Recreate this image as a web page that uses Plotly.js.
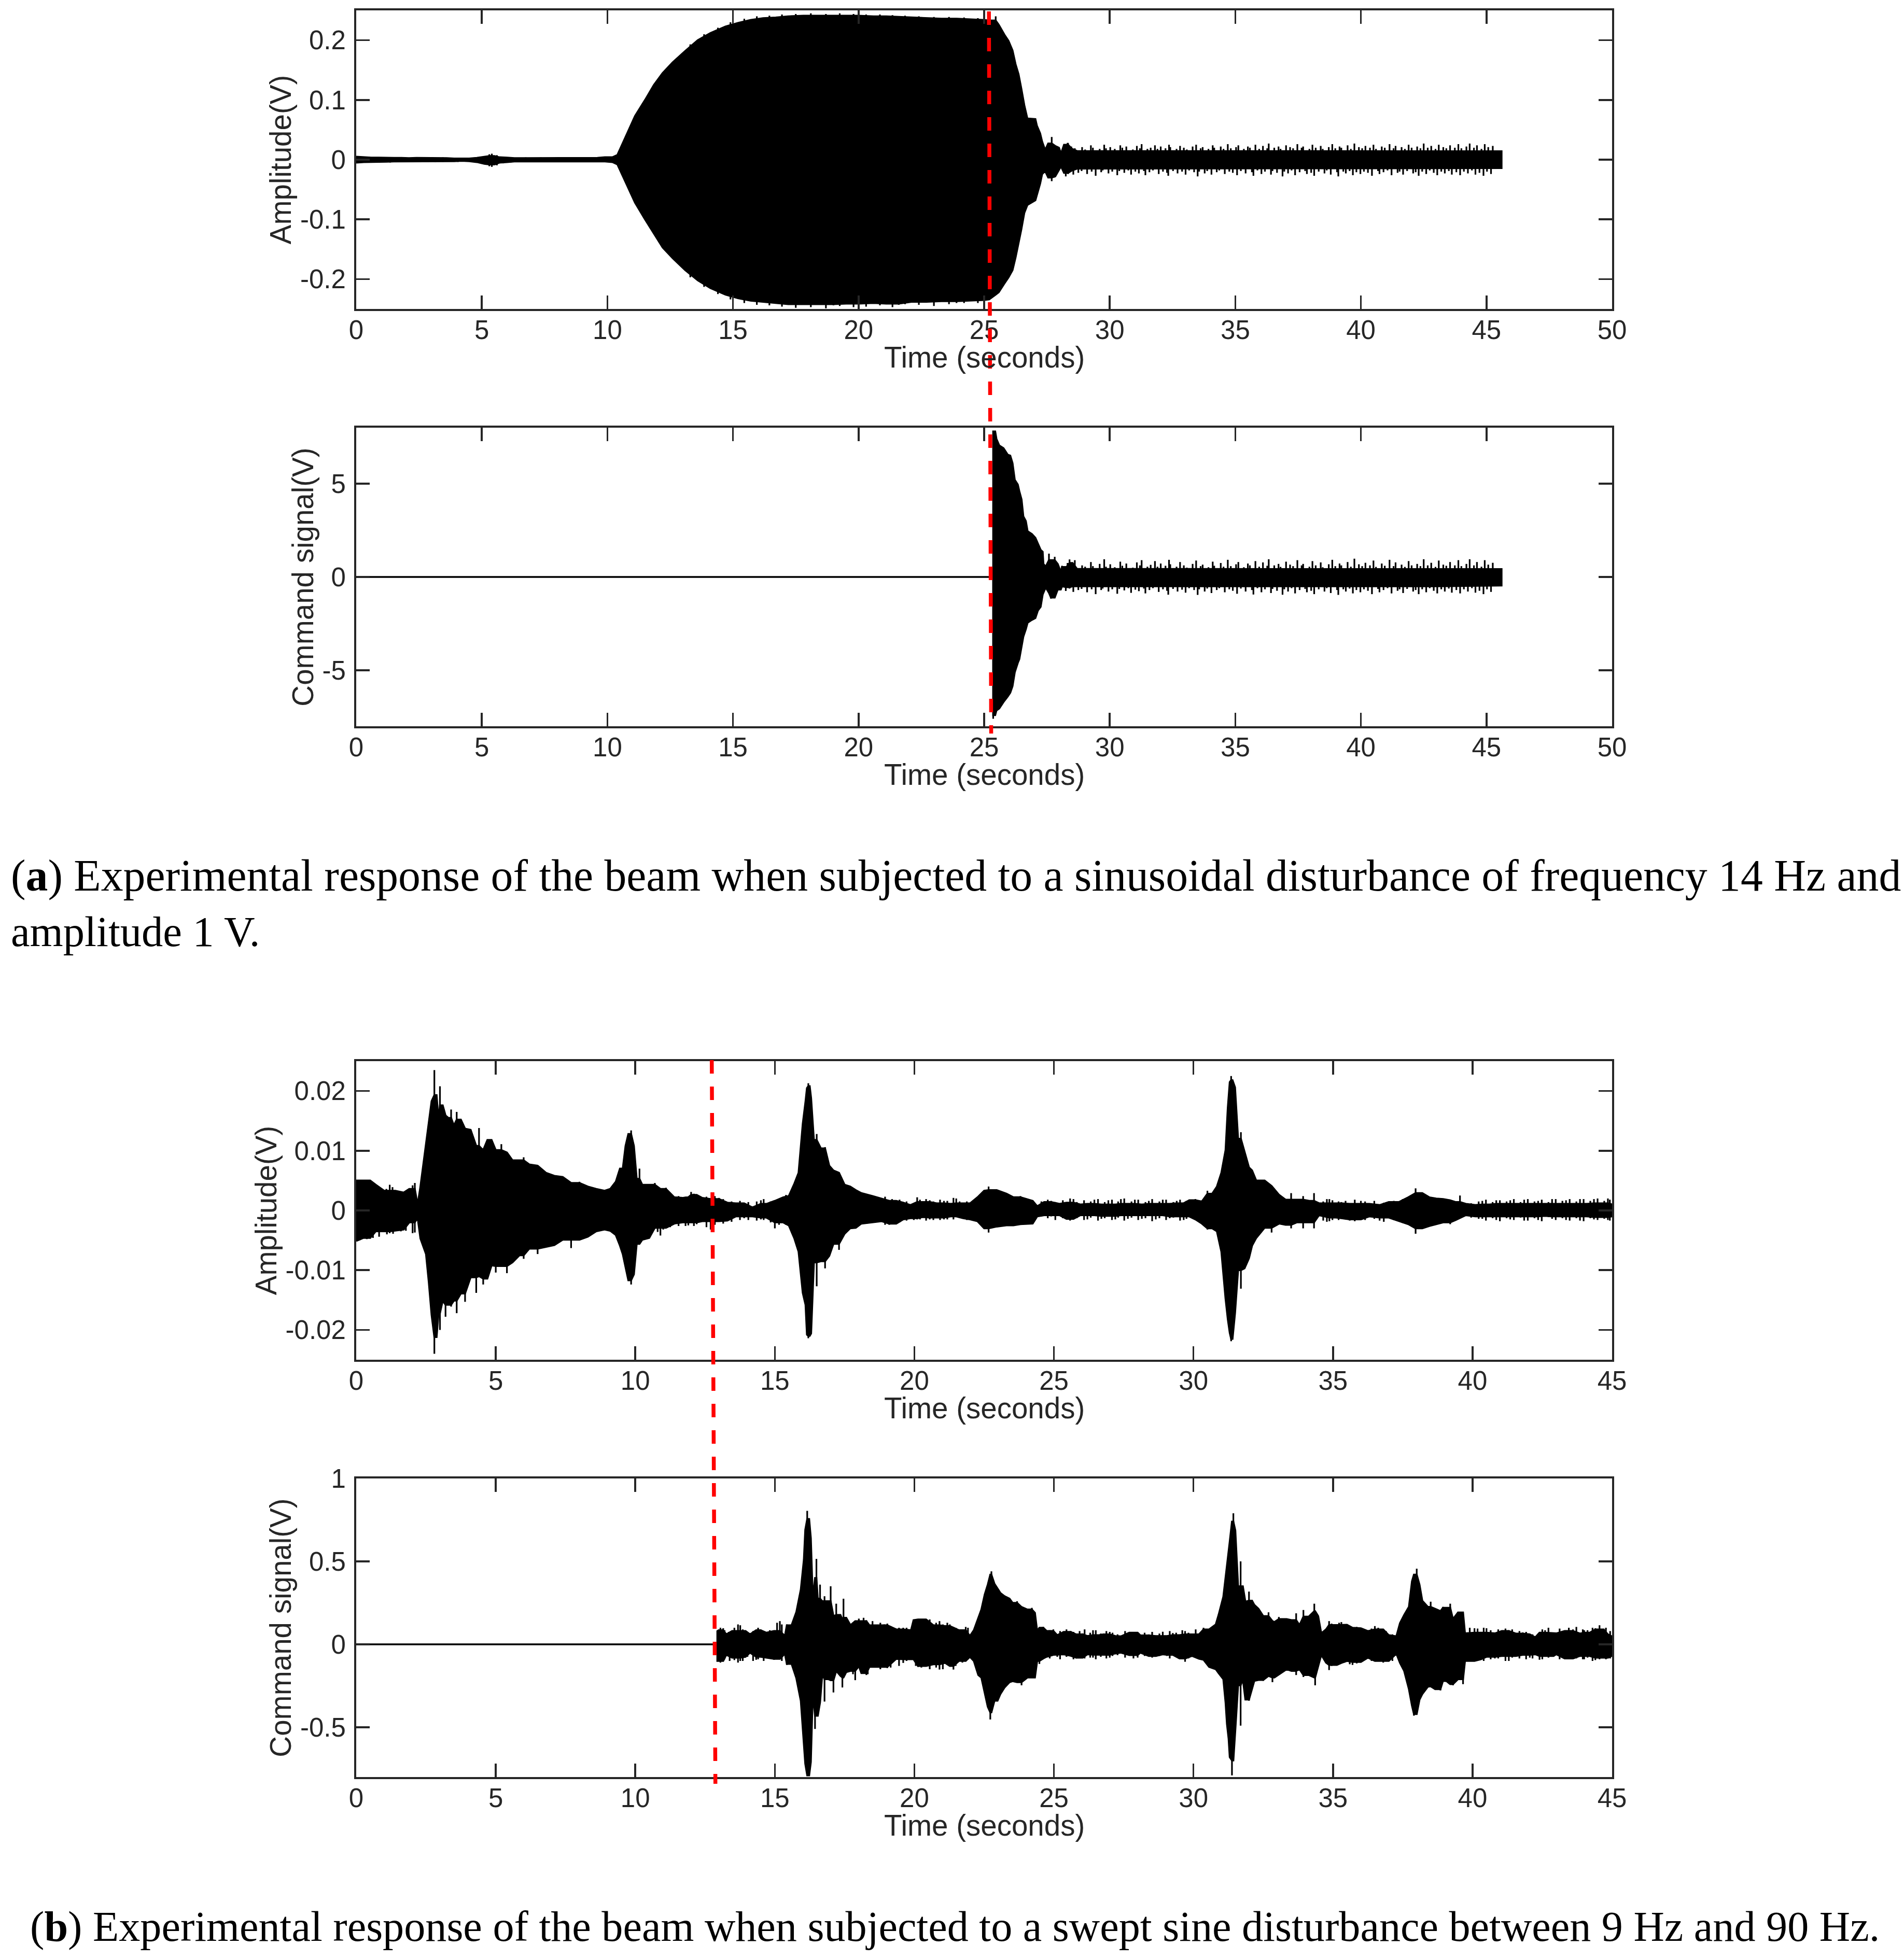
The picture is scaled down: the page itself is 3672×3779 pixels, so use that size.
<!DOCTYPE html>
<html>
<head>
<meta charset="utf-8">
<script src="https://cdn.plot.ly/plotly-3.0.1.min.js"></script>
<style>html,body{margin:0;padding:0;background:#fff}#chart{width:3672px;height:3779px}</style>
</head>
<body>
<div id="chart"></div>
<script>
// ---------- Panel (a): quiet core of the tail after the transient (seconds, V)
const tailTimeA = [28.7,31,34,37,40,43,45.6];
const ampATailUpper = [.0145,.0145,.015,.0145,.015,.0145,.014];
const ampATailLower = [-.015,-.015,-.0145,-.015,-.0145,-.015,-.014];
const cmdATailUpper = [.43,.43,.44,.43,.44,.43,.42];
const cmdATailLower = [-.52,-.52,-.5,-.52,-.5,-.52,-.46];

// Isolated spikes sticking out of that core
const tailSpikeUpTime = [28.32,28.47,28.61,28.9,29.02,29.25,29.33,29.6,29.78,29.85,
 30.02,30.2,30.42,30.5,30.66,30.92,31.08,31.2,31.27,31.5,
 31.63,31.8,31.9,32.03,32.22,32.36,32.41,32.66,32.8,32.95,
 33.07,33.3,33.44,33.62,33.7,33.93,34.1,34.16,34.42,34.53,
 34.7,34.82,35.03,35.12,35.34,35.5,35.58,35.8,35.95,36.1,
 36.27,36.33,36.55,36.72,36.8,37.02,37.18,37.3,37.47,37.64,
 37.7,37.95,38.07,38.2,38.4,38.48,38.72,38.86,38.98,39.15,
 39.22,39.47,39.6,39.74,39.92,40.05,40.18,40.36,40.5,40.6,
 40.83,40.95,41.14,41.3,41.38,41.62,41.75,41.9,42.02,42.24,
 42.37,42.5,42.66,42.8,42.97,43.1,43.28,43.4,43.55,43.74,
 43.88,44,44.2,44.33,44.5,44.62,44.8,44.93,45.07,45.25];
const tailSpikeLoTime = [28.25,28.4,28.55,28.75,28.88,29.1,29.28,29.44,29.66,29.72,
 29.95,30.1,30.3,30.38,30.58,30.74,30.85,31.02,31.16,31.36,
 31.42,31.58,31.72,31.95,32.12,32.28,32.33,32.52,32.7,32.88,
 33.02,33.16,33.36,33.5,33.56,33.78,33.88,34.05,34.26,34.36,
 34.58,34.76,34.9,35.07,35.22,35.41,35.66,35.72,35.88,36.04,
 36.18,36.42,36.48,36.66,36.88,36.95,37.1,37.24,37.38,37.56,
 37.78,37.85,38.02,38.14,38.32,38.55,38.64,38.8,39.05,39.1,
 39.3,39.4,39.55,39.68,39.82,39.98,40.12,40.28,40.44,40.68,
 40.74,40.9,41.06,41.22,41.46,41.54,41.68,41.84,42.08,42.18,
 42.3,42.44,42.6,42.74,42.9,43.04,43.2,43.34,43.5,43.62,
 43.8,43.95,44.1,44.26,44.42,44.56,44.72,44.88,45.02,45.18];
const ampASpikeUp = [.028,.022,.019,.021,.017,.024,.02,.018,.025,.019,
 .021,.018,.024,.02,.022,.017,.023,.019,.026,.018,
 .02,.024,.018,.022,.019,.025,.021,.018,.023,.02,
 .017,.022,.025,.019,.021,.018,.024,.02,.022,.018,
 .026,.019,.021,.024,.018,.022,.02,.025,.018,.023,
 .019,.027,.02,.022,.018,.024,.021,.019,.026,.02,
 .022,.018,.025,.02,.023,.018,.021,.026,.019,.022,
 .02,.024,.018,.027,.021,.019,.023,.02,.025,.018,
 .022,.02,.026,.019,.023,.021,.018,.025,.02,.022,
 .019,.027,.02,.023,.018,.025,.021,.019,.024,.02,
 .026,.019,.022,.027,.02,.024,.018,.026,.021,.023];
const ampASpikeLo = [-.028,-.02,-.025,-.022,-.019,-.024,-.02,-.027,-.021,-.018,
 -.023,-.02,-.026,-.019,-.022,-.018,-.025,-.02,-.023,-.019,
 -.026,-.021,-.018,-.024,-.02,-.022,-.027,-.019,-.023,-.02,
 -.025,-.018,-.021,-.028,-.02,-.023,-.019,-.025,-.021,-.018,
 -.024,-.02,-.022,-.026,-.019,-.023,-.021,-.027,-.018,-.024,
 -.02,-.025,-.019,-.022,-.028,-.02,-.023,-.018,-.026,-.021,
 -.019,-.024,-.022,-.027,-.02,-.023,-.018,-.025,-.021,-.028,
 -.02,-.023,-.019,-.026,-.021,-.024,-.02,-.022,-.027,-.019,
 -.024,-.021,-.018,-.026,-.022,-.02,-.025,-.019,-.023,-.021,
 -.027,-.02,-.024,-.018,-.022,-.026,-.02,-.023,-.019,-.025,
 -.021,-.026,-.02,-.023,-.018,-.025,-.022,-.027,-.02,-.024];
const cmdASpikeUp = [.75,.6,.9,.62,.55,.8,.58,.7,.95,.55,
 .68,.52,.82,.6,.72,.5,.78,.62,.9,.55,
 .65,.85,.55,.72,.6,.92,.68,.55,.8,.62,
 .5,.7,.88,.58,.66,.52,.82,.6,.75,.55,
 .92,.58,.68,.8,.52,.72,.62,.85,.55,.78,
 .6,.95,.62,.7,.54,.82,.66,.58,.9,.62,
 .7,.55,.85,.62,.78,.52,.68,.92,.58,.72,
 .62,.8,.55,.98,.68,.58,.76,.62,.88,.54,
 .72,.6,.92,.58,.78,.66,.54,.85,.62,.7,
 .58,.95,.62,.76,.54,.88,.66,.6,.8,.62,
 .9,.58,.7,.95,.62,.8,.55,.9,.66,.76];
const cmdASpikeLo = [-.75,-.62,-.8,-.7,-.64,-.82,-.66,-.92,-.7,-.62,
 -.78,-.66,-.9,-.64,-.72,-.6,-.85,-.68,-.76,-.62,
 -.88,-.7,-.6,-.8,-.66,-.74,-.95,-.64,-.78,-.68,
 -.84,-.6,-.7,-.96,-.66,-.78,-.62,-.86,-.7,-.6,
 -.82,-.66,-.74,-.9,-.62,-.78,-.7,-.94,-.6,-.82,
 -.66,-.86,-.64,-.74,-.95,-.66,-.78,-.6,-.88,-.7,
 -.64,-.82,-.74,-.92,-.66,-.78,-.6,-.86,-.7,-.96,
 -.66,-.78,-.62,-.88,-.7,-.82,-.66,-.74,-.92,-.64,
 -.82,-.7,-.6,-.88,-.74,-.66,-.86,-.64,-.78,-.7,
 -.92,-.66,-.82,-.6,-.74,-.88,-.66,-.78,-.62,-.84,
 -.7,-.88,-.66,-.78,-.6,-.84,-.74,-.92,-.66,-.8];

// Panel (a) top: beam amplitude envelope (V)
const ampATime = [0,.3,.6,.9,1.2,1.5,1.8,2.1,2.4,2.7,3,3.3,3.6,3.9,4.2,4.5,4.8,5.1,5.3,5.5,5.7,6,6.3,6.6,6.9,7.2,7.5,7.8,8.1,8.4,8.7,9,9.3,9.6,9.9,10.2,
  10.4,10.7,11.1,11.5,11.85,12.2,12.6,13.1,13.6,14.1,14.7,15.2,15.7,16.2,16.7,17.2,17.8,18.4,19,19.5,20,20.6,21.1,21.6,22.1,22.7,23.3,23.9,24.5,25,25.2,25.46,
  25.58,25.81,25.97,26.13,26.25,26.37,26.48,26.6,26.72,27.04,27.1,27.23,27.31,27.43,27.55,27.69,27.83,27.98,28.06,28.18,28.34,28.5];
const ampAUpper = [.005,.004,.0035,.004,.003,.0035,.003,.0025,.003,.0035,.0025,.003,.0025,.002,.0025,.002,.003,.005,.009,.006,.004,.0035,.0025,.003,.0025,.003,.0025,.003,.0035,.003,.0025,.003,.0035,.003,.004,.004,
  .008,.036,.073,.1,.125,.145,.163,.182,.2,.212,.223,.229,.234,.237,.238,.24,.241,.242,.241,.242,.241,.24,.24,.239,.238,.237,.236,.236,.235,.234,.233,.24,
  .226,.209,.199,.183,.16,.143,.119,.091,.069,.068,.057,.044,.03,.016,.027,.038,.023,.02,.01,.025,.028,.018];
const ampALower = [-.005,-.004,-.004,-.0035,-.004,-.003,-.0035,-.003,-.0025,-.003,-.0035,-.003,-.0025,-.003,-.002,-.0025,-.004,-.007,-.011,-.008,-.005,-.004,-.003,-.0025,-.003,-.0025,-.003,-.0025,-.003,-.0035,-.003,-.0025,-.003,-.0035,-.003,-.004,
  -.008,-.036,-.072,-.1,-.124,-.147,-.165,-.185,-.202,-.215,-.226,-.232,-.236,-.238,-.24,-.242,-.243,-.242,-.244,-.241,-.243,-.24,-.241,-.243,-.238,-.239,-.237,-.24,-.236,-.235,-.234,-.226,
  -.222,-.207,-.197,-.185,-.164,-.14,-.117,-.089,-.076,-.068,-.059,-.04,-.024,-.019,-.03,-.036,-.028,-.017,-.011,-.022,-.024,-.018];
// Fine fuzz on the quiet start and on the saturated plateau
const ampAEdgeTime = [.15,.45,.75,1.05,1.35,1.65,1.95,2.25,2.55,2.85,3.15,3.45,3.75,4.05,4.35,4.65,4.95,5.2,5.4,5.6,5.85,6.15,6.45,6.75,7.05,7.35,7.65,7.95,8.25,8.55,8.85,9.15,9.45,9.75,10.05,10.3,
  13.3,13.85,14.4,14.9,15.45,15.95,16.45,16.95,17.5,18.1,18.7,19.25,19.8,20.3,20.85,21.35,21.85,22.4,23,23.6,24.2,24.75];
const ampAEdgeUp = [.005,.0045,.0038,.0042,.0036,.004,.0035,.0032,.0038,.004,.0035,.0038,.003,.003,.0032,.003,.004,.006,.01,.0075,.005,.0042,.0035,.0038,.0032,.0038,.0035,.004,.0042,.0036,.0035,.004,.0042,.0038,.0045,.0052,
  .193,.21,.221,.23,.236,.24,.241,.243,.244,.245,.244,.245,.244,.243,.243,.242,.241,.24,.239,.239,.238,.237];
const ampAEdgeLo = [-.0055,-.005,-.0045,-.0042,-.0048,-.0038,-.0042,-.0036,-.0032,-.0038,-.0042,-.0036,-.0032,-.0038,-.0028,-.0032,-.0052,-.0085,-.012,-.0095,-.0062,-.0048,-.0038,-.0034,-.004,-.0034,-.0038,-.0032,-.0038,-.0042,-.0036,-.0032,-.0038,-.0042,-.0038,-.005,
  -.197,-.213,-.225,-.234,-.24,-.243,-.244,-.246,-.248,-.247,-.249,-.245,-.247,-.246,-.244,-.247,-.242,-.243,-.245,-.242,-.24,-.24];

// Panel (a) bottom: command signal envelope (V)
const cmdATime = [0,25.36,25.36,25.44,25.49,25.6,25.77,25.94,26.04,26.13,26.22,26.34,26.4,26.49,26.56,26.66,26.73,26.9,27.04,27.14,27.25,27.33,27.36,27.45,27.58,27.66,27.81,27.93,28.05,28.1,28.28,28.4,28.52];
const cmdAUpper = [0,0,7.8,7.8,7.4,7.05,6.9,6.55,6.5,6.1,5.2,4.95,4.6,4.15,3.25,3,2.45,2.3,2.1,1.8,1.45,1.35,.7,.55,1.25,.9,1.08,.7,.28,.6,.53,.94,.75];
const cmdALower = [0,0,-7.6,-7.4,-7.15,-7.05,-6.7,-6.4,-6.2,-5.85,-5.1,-4.6,-4.4,-3.7,-3.2,-2.8,-2.45,-2.3,-2.2,-1.8,-1.6,-.94,-.9,-.56,-.85,-1.16,-1.1,-.67,-.7,-.5,-.55,-.6,-.5];

// Panel (b) top: beam amplitude envelope (millivolts)
const ampBTime = [0,.25,.5,.7,1,1.2,1.4,1.7,1.9,2.1,2.2,2.3,2.5,2.6,2.7,2.8,2.88,2.95,3,3.1,3.2,3.3,3.4,3.5,3.6,3.75,3.9,4.1,4.3,4.4,4.55,4.7,4.85,5,5.2,5.4,5.6,5.85,6,6.2,6.5,6.8,7.1,7.4,7.7,8,8.3,8.6,8.9,9.1,9.3,9.45,9.55,9.65,9.75,9.85,9.95,10.05,10.15,10.25,10.5,10.7,10.9,11.1,11.4,11.7,11.9,12,12.2,12.4,12.7,13,13.3,13.6,13.9,14.2,14.5,14.7,15,15.3,15.5,15.7,15.85,16,16.1,16.15,16.2,16.25,16.3,16.4,16.5,16.65,16.8,16.95,17.1,17.3,17.5,17.7,17.9,18.1,18.5,18.83,19.1,19.35,19.6,19.86,20.1,20.3,20.55,20.8,21.06,21.3,21.5,21.75,22,22.26,22.5,22.66,22.95,23.3,23.55,23.8,24.24,24.4,24.65,24.9,25.2,25.45,25.7,25.95,26.2,26.45,26.7,26.95,27.2,27.4,27.65,27.9,28.15,28.4,28.65,28.9,29.15,29.4,29.65,29.85,30.07,30.3,30.5,30.67,30.84,31,31.15,31.23,31.3,31.35,31.4,31.49,31.6,31.7,31.83,31.99,32.1,32.25,32.55,32.8,33.07,33.3,33.5,33.7,33.93,34.15,34.32,34.5,34.87,35.1,35.3,35.6,36,36.3,36.67,37,37.36,37.7,37.96,38.2,38.45,38.7,38.95,39.2,39.4,39.55,39.76,40.1,40.35,40.6,40.85,41.1,41.35,41.6,41.85,42.1,42.35,42.6,42.85,43.1,43.35,43.6,43.85,44.1,44.35,44.6,44.85,45];
const ampBUpper = [5,5,5,4.3,3.3,4.3,3.3,3,3.6,4.6,.9,4,11.1,14.2,18.3,23.5,19.3,15,20.8,17.6,15.9,15.5,16.9,14.2,16.5,15.2,13.7,13.5,10.8,13.8,10.1,11.8,11.8,10.1,11.1,9.7,8.4,8.4,8.9,7.7,7.5,6.3,5.8,5.6,4.6,4.8,4,3.6,3.3,3.6,4.8,7,7,10.8,12.8,13.4,10.8,5.3,7,4.3,4.3,4.6,3.6,3.8,2.2,2.1,2.2,3.1,2.6,2.1,1.9,2.1,1.3,1.2,1.2,.5,1.7,1.1,1.6,2.2,2.4,4.5,6.3,14.5,18.3,20.5,21.3,20.8,18.8,11.8,12.8,10.4,10.6,7.5,6.7,6.3,4.3,4,3.4,2.9,2.4,2,1.6,1.7,1.3,.9,2.2,1.4,1.7,1.2,1.6,1.1,2,1.2,1.2,2.2,3.3,4,3.4,2.8,2.2,2.4,1.6,.7,1.4,1.6,1.1,1.3,1.9,1,1.1,1.8,1,1.7,1,1.9,1.1,1.8,1,1.6,1.1,1.8,1.1,1.6,1.2,1.7,1.9,1.5,3.3,2.8,4,6.3,10.1,17.2,21.5,22.5,21.8,20.6,12,13.1,9.9,7.2,6.7,5,5,4.1,2.6,1.8,2.9,1.8,2.4,1.6,2.9,1.2,1.9,1.2,1.4,1.1,1.6,1.1,.9,1.4,1.4,2.2,3.7,2.9,2.2,2,1.9,1.7,1.4,2.5,1.1,.9,1.6,1,1.7,1.1,1.7,1.1,1.8,1.1,1.6,1.1,1.9,1.1,1.7,1.1,1.9,1.1,1.9,1.2,2,1];
const ampBLower = [-5.1,-4.6,-4.7,-3.5,-3.5,-3.8,-3.4,-3.2,-2,-3.7,-1.2,-4.7,-7.3,-12,-17.5,-24,-21.2,-17.2,-20,-15.1,-17.8,-15.8,-16.1,-15.1,-17.2,-13.9,-15.3,-11.2,-13.8,-11,-12.4,-11.4,-9.2,-10.4,-9.3,-10.5,-8.7,-7.5,-8.1,-6.4,-7.3,-6.1,-5.8,-4.9,-6.3,-4.9,-4.4,-3.5,-3.2,-3.4,-4.1,-5.9,-7.3,-9.3,-11.7,-12.4,-10.7,-5.6,-5.6,-4.9,-4.6,-2.9,-4.2,-2.9,-2.2,-2,-2.5,-2,-2.3,-1.8,-3.2,-1.8,-1.7,-1,-1.3,-1,-1.5,-1.2,-3,-2,-2.5,-4.7,-6.9,-13.8,-15.8,-20.8,-21.4,-21,-20.6,-8.7,-12.7,-8.5,-9.7,-7.6,-5.6,-6.6,-3.9,-3,-2.9,-2.2,-2,-1.8,-2.4,-2.2,-1.5,-1.3,-1.5,-1.1,-1.5,-1.2,-1.5,-1,-1,-1.3,-1.5,-1.8,-3,-3.7,-2.7,-2.5,-2.6,-2.3,-2.2,-1,-.8,-1,-.8,-1.4,-1.5,-.8,-1.5,-.8,-1.4,-.9,-1.5,-.8,-1.4,-.8,-1.4,-.8,-1.5,-.8,-1.3,-1,-1.6,-1,-1.5,-2.2,-3.2,-3,-3.5,-6.9,-14.8,-18.2,-20.5,-21.9,-21.5,-17.2,-10,-13.1,-9.7,-8,-5.9,-4.6,-2.9,-3.7,-2.2,-2.4,-3,-2,-3,-2,-3,-.8,-1.8,-1.2,-1.3,-1.7,-1.5,-1,-1.7,-1.2,-1.8,-2.3,-3.9,-3,-2.6,-2.3,-2,-2.3,-1.6,-1.3,-.8,-1,-1.4,-1,-1.6,-1,-1.5,-1,-1.7,-1,-1.6,-.9,-1.4,-1,-1.6,-1,-1.7,-1,-1.5,-1.1,-1.6,-1];
const ampBSpikeUpTime = [.12,.36,.62,.85,1.08,1.3,1.55,1.8,2.02,
 11,11.25,11.55,11.8,12.1,12.55,12.85,13.15,13.45,13.75,14.05,14.35,14.6,14.85,15.15,15.4,
 18.3,18.65,18.95,19.2,19.47,19.72,20.2,20.42,20.68,20.92,21.18,21.4,21.62,21.88,22.12,
 24.55,24.78,25.05,25.32,25.58,25.82,26.08,26.32,26.58,26.82,27.08,27.3,27.52,27.78,28.02,28.28,28.52,28.78,29.02,29.28,29.52,29.75,
 34.65,34.78,34.98,35.2,35.45,35.78,36.15,36.48,36.82,37.18,37.5,
 39.95,40.22,40.48,40.72,40.98,41.22,41.48,41.72,41.98,42.22,42.48,42.72,42.98,43.22,43.48,43.72,43.98,44.22,44.48,44.72,44.92];
const ampBSpikeUp = [4.8,4.7,4.6,3.8,3.6,3.9,3.2,3.3,4.2,
 3.5,2.8,2.4,2.3,2.8,2.3,2.4,1.9,1.5,1.6,1.4,1.5,1.9,1.5,1.9,2.6,
 2.6,2.2,2.3,1.9,1.8,1.5,1.8,1.9,1.5,1.8,1.6,2.1,1.5,1.5,1.7,
 1.5,1.8,1.4,1.7,2,1.4,1.7,1.5,1.9,1.4,1.8,1.5,2,1.5,1.8,1.4,1.9,1.5,1.8,1.4,1.8,1.6,
 1.5,1.9,1.7,1.5,1.6,1.8,1.5,1.6,1.3,1.6,1.9,
 1.2,1.5,1.8,1.4,1.7,1.5,1.9,1.4,1.9,1.5,1.8,1.4,1.9,1.6,1.9,1.5,1.9,1.6,2,1.6,1.8];
const ampBSpikeLoTime = [.12,.38,.6,.82,1.1,1.32,1.6,1.78,2.02,
 10.6,10.8,11,11.25,11.55,11.8,12.1,12.55,12.85,13.15,13.45,13.75,14.05,14.35,14.6,14.85,15.15,15.4,
 18.3,18.65,18.95,19.2,19.47,19.72,19.98,20.2,20.42,20.68,20.92,21.18,21.4,21.62,21.88,22.12,
 24.55,24.78,25.05,25.32,25.58,25.82,26.08,26.32,26.58,26.82,27.08,27.3,27.52,27.78,28.02,28.28,28.52,28.78,29.02,29.28,29.52,29.75,
 34.65,34.78,34.98,35.2,35.45,35.78,36.15,36.48,36.82,37.18,37.5,
 39.95,40.22,40.48,40.72,40.98,41.22,41.48,41.72,41.98,42.22,42.48,42.72,42.98,43.22,43.48,43.72,43.98,44.22,44.48,44.72,44.92];
const ampBSpikeLo = [-5,-4.8,-4.6,-4.4,-4,-3.9,-3.5,-3.4,-3.8,
 -3.8,-3.6,-3.2,-2.8,-2.6,-2.6,-2.6,-2.8,-2.4,-2.2,-1.9,-1.6,-1.6,-1.7,-1.6,-2,-2.4,-2.4,
 -2.2,-1.9,-2.4,-2.1,-2,-1.7,-1.6,-1.5,-1.7,-1.6,-1.6,-1.5,-1.5,-1.3,-1.6,-1.7,
 -1,-1.3,-1.6,-1.3,-1.7,-1.3,-1.6,-1.2,-1.7,-1.3,-1.6,-1.2,-1.7,-1.2,-1.6,-1.3,-1.8,-1.3,-1.6,-1.2,-1.7,-1.4,
 -1.7,-1.9,-1.6,-1.6,-1.5,-1.8,-1.6,-1.4,-1.9,-1.6,-2.1,
 -1.2,-1.4,-1.7,-1.3,-1.8,-1.3,-1.6,-1.2,-1.7,-1.3,-1.8,-1.1,-1.6,-1.3,-1.7,-1.3,-1.8,-1.3,-1.6,-1.4,-1.7];

// Panel (b) bottom: command signal envelope (V)
const cmdBTime = [0,12.94,12.94,12.99,13.15,13.26,13.47,13.76,13.95,14.11,14.33,14.49,14.7,14.97,15.18,15.36,15.43,15.6,15.77,15.93,16.04,16.09,16.16,16.23,16.29,16.36,16.44,16.49,16.54,16.62,16.7,16.78,16.91,17,17.1,17.2,17.35,17.42,17.46,17.56,17.71,17.88,18.01,18.1,18.28,18.39,18.65,19.03,19.35,19.6,19.88,19.97,20.13,20.42,20.68,20.9,21.1,21.27,21.4,21.6,21.84,21.99,22.13,22.29,22.4,22.52,22.63,22.72,22.76,22.87,22.98,23.08,23.23,23.41,23.52,23.68,23.84,24.05,24.21,24.32,24.4,24.48,24.62,24.74,24.98,25.12,25.35,25.6,25.8,26.03,26.2,26.4,26.6,26.77,27,27.2,27.4,27.7,28,28.1,28.4,28.65,28.9,29.05,29.26,29.5,29.7,29.95,30.2,30.36,30.56,30.8,30.9,31.07,31.15,31.2,31.26,31.3,31.38,31.43,31.5,31.6,31.69,31.77,31.86,31.99,32.1,32.18,32.33,32.5,32.69,32.83,32.9,33.06,33.34,33.51,33.68,33.8,33.94,34.13,34.33,34.36,34.47,34.58,34.75,34.86,35.14,35.3,35.5,35.7,36,36.25,36.5,36.8,37,37.27,37.4,37.55,37.72,37.83,37.9,38,38.1,38.2,38.4,38.5,38.66,38.85,38.94,39.07,39.2,39.3,39.48,39.66,39.73,40.07,40.3,40.5,40.8,41.05,41.3,41.55,41.8,42.05,42.25,42.4,42.6,42.9,43,43.3,43.6,43.85,44,44.2,44.4,44.7,44.85,45];
const cmdBUpper = [0,0,.08,.085,.097,.06,.08,.115,.08,.06,.085,.09,.07,.08,.14,.05,.12,.115,.195,.33,.51,.69,.805,.755,.64,.27,.4,.515,.275,.36,.26,.29,.26,.35,.17,.245,.177,.15,.275,.16,.115,.14,.155,.14,.145,.115,.115,.125,.09,.1,.085,.146,.15,.15,.115,.14,.11,.12,.1,.085,.105,.05,.085,.16,.21,.3,.36,.42,.44,.365,.335,.31,.29,.275,.25,.26,.225,.21,.22,.19,.08,.1,.105,.08,.09,.055,.075,.08,.06,.066,.05,.085,.055,.06,.075,.05,.048,.07,.072,.054,.06,.05,.076,.05,.068,.055,.08,.06,.06,.1,.09,.12,.177,.287,.4,.46,.55,.62,.74,.79,.687,.35,.5,.35,.257,.318,.263,.238,.214,.17,.193,.14,.134,.165,.152,.146,.187,.116,.207,.167,.245,.2,.17,.066,.09,.14,.116,.134,.118,.1,.097,.08,.11,.09,.055,.048,.128,.177,.226,.38,.42,.456,.36,.263,.226,.257,.214,.2,.226,.22,.245,.152,.195,.192,.066,.097,.07,.097,.066,.08,.085,.065,.072,.06,.042,.07,.085,.066,.066,.08,.09,.065,.085,.07,.097,.09,.06,.048];
const cmdBLower = [0,0,-.1,-.1,-.1,-.063,-.08,-.1,-.075,-.05,-.093,-.075,-.08,-.093,-.087,-.056,-.124,-.118,-.204,-.34,-.61,-.72,-.79,-.79,-.71,-.29,-.51,-.43,-.43,-.35,-.18,-.345,-.21,-.216,-.29,-.16,-.19,-.26,-.2,-.167,-.16,-.216,-.13,-.173,-.185,-.136,-.136,-.143,-.087,-.112,-.09,-.09,-.136,-.13,-.12,-.152,-.112,-.13,-.152,-.1,-.1,-.075,-.1,-.185,-.2,-.296,-.376,-.453,-.41,-.34,-.34,-.3,-.26,-.228,-.222,-.228,-.247,-.2,-.2,-.2,-.1,-.118,-.085,-.075,-.063,-.075,-.06,-.069,-.085,-.08,-.06,-.08,-.062,-.063,-.08,-.055,-.05,-.065,-.08,-.05,-.07,-.075,-.06,-.07,-.063,-.085,-.105,-.07,-.087,-.093,-.136,-.15,-.173,-.21,-.35,-.48,-.57,-.68,-.79,-.7,-.517,-.247,-.49,-.21,-.333,-.34,-.27,-.22,-.215,-.22,-.19,-.228,-.2,-.18,-.15,-.16,-.185,-.15,-.197,-.185,-.2,-.247,-.13,-.063,-.11,-.155,-.124,-.112,-.1,-.124,-.106,-.08,-.1,-.11,-.1,-.056,-.112,-.16,-.27,-.37,-.43,-.42,-.333,-.3,-.255,-.253,-.27,-.278,-.22,-.222,-.24,-.247,-.21,-.24,-.1,-.1,-.09,-.075,-.085,-.07,-.1,-.07,-.063,-.08,-.06,-.093,-.07,-.075,-.06,-.085,-.087,-.07,-.09,-.07,-.095,-.08,-.085,-.069];
const cmdBSpikeUpTime = [13.05,13.2,13.35,13.55,13.68,13.85,14.02,14.22,14.4,14.6,14.82,15.08,15.25,
 17.8,17.95,18.18,18.33,18.5,18.78,18.92,19.15,19.45,19.72,20.05,20.25,20.55,20.78,21.02,21.18,21.48,21.72,21.92,
 24.85,25.22,25.45,25.7,25.92,26.1,26.3,26.5,26.68,26.88,27.1,27.28,27.55,27.85,28.25,28.52,28.78,29.15,29.38,29.6,29.82,30.08,
 34.95,35.22,35.4,35.6,35.85,36.12,36.38,36.62,36.9,37.13,
 39.9,40.18,40.4,40.65,40.92,41.18,41.42,41.68,41.92,42.15,42.5,42.72,43.12,43.45,43.72,43.95,44.12,44.3,44.55,44.78,44.93];
const cmdBSpikeUp = [.1,.085,.075,.1,.12,.09,.07,.08,.1,.075,.085,.13,.12,
 .13,.14,.16,.13,.14,.13,.12,.11,.1,.1,.15,.14,.15,.13,.12,.13,.1,.09,.1,
 .085,.08,.09,.075,.08,.09,.07,.085,.065,.08,.07,.06,.08,.075,.07,.075,.065,.08,.07,.085,.07,.09,
 .125,.13,.12,.11,.105,.09,.095,.1,.08,.06,
 .1,.095,.1,.085,.09,.095,.09,.08,.075,.06,.09,.1,.095,.1,.105,.09,.085,.1,.115,.1,.08];
const cmdBSpikeLoTime = [13.05,13.2,13.38,13.55,13.68,13.85,14.02,14.22,14.4,14.6,14.82,15.08,15.25,
 17.8,17.95,18.18,18.33,18.5,18.78,18.92,19.15,19.45,19.72,20.05,20.25,20.55,20.78,21.02,21.18,21.48,21.72,21.92,
 24.85,25.22,25.45,25.7,25.92,26.1,26.3,26.5,26.68,26.88,27.1,27.28,27.55,27.85,28.25,28.52,28.78,29.15,29.38,29.6,29.82,30.08,
 34.95,35.22,35.4,35.6,35.85,36.12,36.38,36.62,36.9,37.13,
 39.9,40.18,40.4,40.65,40.92,41.18,41.42,41.68,41.92,42.15,42.5,42.72,43.12,43.45,43.72,43.95,44.12,44.3,44.55,44.78,44.93];
const cmdBSpikeLo = [-.11,-.09,-.1,-.095,-.11,-.1,-.075,-.1,-.09,-.1,-.08,-.09,-.1,
 -.18,-.15,-.14,-.18,-.14,-.15,-.12,-.14,-.13,-.1,-.13,-.14,-.15,-.14,-.15,-.12,-.13,-.11,-.09,
 -.085,-.09,-.075,-.09,-.075,-.085,-.08,-.09,-.075,-.085,-.07,-.065,-.08,-.085,-.07,-.08,-.07,-.085,-.07,-.09,-.085,-.075,
 -.13,-.115,-.11,-.12,-.115,-.095,-.1,-.1,-.095,-.1,
 -.09,-.085,-.1,-.09,-.085,-.1,-.08,-.085,-.09,-.085,-.09,-.08,-.09,-.09,-.085,-.09,-.08,-.1,-.09,-.09,-.085];

// Dashed red "control on" markers (seconds at top and bottom of the line)
const switchTimeA = [25.19,25.28];
const switchTimeB = [12.74,12.87];

// Axis ticks
const xTicksA = [0,5,10,15,20,25,30,35,40,45,50];
const xTicksB = [0,5,10,15,20,25,30,35,40,45];
const yAmpATicks = [-.2,-.1,0,.1,.2];
const yAmpALabels = ['-0.2','-0.1','0','0.1','0.2'];
const yCmdATicks = [-5,0,5];
const yCmdALabels = ['-5','0','5'];
const yAmpBTicks = [-.02,-.01,0,.01,.02];
const yAmpBLabels = ['-0.02','-0.01','0','0.01','0.02'];
const yCmdBTicks = [-.5,0,.5,1];
const yCmdBLabels = ['-0.5','0','0.5','1'];

const xTitle = 'Time (seconds)';
const captionA1 = '(<b>a</b>) Experimental response of the beam when subjected to a sinusoidal disturbance of frequency 14 Hz and';
const captionA2 = 'amplitude 1 V.';
const captionB = '(<b>b</b>) Experimental response of the beam when subjected to a swept sine disturbance between 9 Hz and 90 Hz.';

const W = 3672, H = 3779, INK = '#262626', FONT = 'Liberation Sans, Arial, sans-serif', SERIF = 'Liberation Serif, serif';

function check(name, ...arrs){ arrs.forEach(a=>{ if(a.length!==arrs[0].length) throw new Error(name+' length '+arrs.map(x=>x.length).join('/')); }); }
check('ampA',ampATime,ampAUpper,ampALower);
check('edge',ampAEdgeTime,ampAEdgeUp,ampAEdgeLo);
check('tail',tailTimeA,ampATailUpper,ampATailLower,cmdATailUpper,cmdATailLower);
check('spkU',tailSpikeUpTime,ampASpikeUp,cmdASpikeUp);
check('spkL',tailSpikeLoTime,ampASpikeLo,cmdASpikeLo);
check('cmdA',cmdATime,cmdAUpper,cmdALower);
check('ampB',ampBTime,ampBUpper,ampBLower);
check('ampBsU',ampBSpikeUpTime,ampBSpikeUp);
check('ampBsL',ampBSpikeLoTime,ampBSpikeLo);
check('cmdB',cmdBTime,cmdBUpper,cmdBLower);
check('cmdBsU',cmdBSpikeUpTime,cmdBSpikeUp);
check('cmdBsL',cmdBSpikeLoTime,cmdBSpikeLo);

// Solid core: any envelope value that stands above both neighbours is trimmed to the
// taller neighbour and drawn instead as a thin vertical spike, as in a dense time trace.
function splitSpikes(t, v, sign, bars){
  return v.map((val,i)=>{
    if(i===0 || i===v.length-1) return val;
    const a = sign*v[i-1], b = sign*v[i+1], c = sign*val;
    if(c>a && c>b){ bars.x.push(t[i],t[i],null); bars.y.push(0,val,null); return sign*Math.max(a,b); }
    return val;
  });
}
function panel(t, up, lo, extra, xa, ya, scale){
  const k = scale || 1, bars = {x:[],y:[]};
  const coreUp = splitSpikes(t, up, 1, bars), coreLo = splitSpikes(t, lo, -1, bars);
  extra.forEach(([st,sv])=>st.forEach((x,i)=>{ bars.x.push(x,x,null); bars.y.push(0,sv[i],null); }));
  return [{
    type:'scatter', mode:'lines', xaxis:xa, yaxis:ya, hoverinfo:'skip', showlegend:false,
    x: t.concat(t.slice().reverse()),
    y: coreUp.map(v=>v*k).concat(coreLo.slice().reverse().map(v=>v*k)),
    fill:'toself', fillcolor:'#000', line:{color:'#000', width:3.6}
  },{
    type:'scatter', mode:'lines', xaxis:xa, yaxis:ya, hoverinfo:'skip', showlegend:false,
    x: bars.x, y: bars.y.map(v=>v===null?null:v*k), line:{color:'#000', width:3.2}
  }];
}
const traces = [].concat(
  panel(ampATime.concat(tailTimeA), ampAUpper.concat(ampATailUpper), ampALower.concat(ampATailLower),
        [[tailSpikeUpTime,ampASpikeUp],[tailSpikeLoTime,ampASpikeLo],[ampAEdgeTime,ampAEdgeUp],[ampAEdgeTime,ampAEdgeLo]], 'x','y'),
  panel(cmdATime.concat(tailTimeA), cmdAUpper.concat(cmdATailUpper), cmdALower.concat(cmdATailLower),
        [[tailSpikeUpTime,cmdASpikeUp],[tailSpikeLoTime,cmdASpikeLo]], 'x2','y2'),
  panel(ampBTime, ampBUpper, ampBLower, [[ampBSpikeUpTime,ampBSpikeUp],[ampBSpikeLoTime,ampBSpikeLo]], 'x3','y3', 0.001),
  panel(cmdBTime, cmdBUpper, cmdBLower, [[cmdBSpikeUpTime,cmdBSpikeUp],[cmdBSpikeLoTime,cmdBSpikeLo]], 'x4','y4')
);

const FRAME = [[18,598],[823,1403],[2045,2625],[2850,3430]];
const LEFT = 685, RIGHT = 3111, LW = 4;
const xDom = [(LEFT+LW/2)/W, (RIGHT-LW/2)/W];
const yDom = i => [1-(FRAME[i][1]-LW/2)/H, 1-(FRAME[i][0]+LW/2)/H];

function xAxis(i, range, ticks){
  return {domain:xDom, anchor:'y'+(i?i+1:''), range:range, tickmode:'array', tickvals:ticks, ticktext:ticks.map(String),
    ticks:'inside', ticklen:26, tickwidth:3.5, tickcolor:INK, showline:true, linecolor:INK, linewidth:LW, mirror:'allticks', showgrid:false, zeroline:false,
    tickfont:{family:FONT,size:51,color:INK}, ticklabelstandoff:-7};
}
function yAxis(i, range, ticks, labels, title){
  return {domain:yDom(i), anchor:'x'+(i?i+1:''), range:range, tickmode:'array', tickvals:ticks, ticktext:labels,
    ticks:'inside', ticklen:26, tickwidth:3.5, tickcolor:INK, showline:true, linecolor:INK, linewidth:LW, mirror:'allticks', showgrid:false, zeroline:false,
    tickfont:{family:FONT,size:51,color:INK}, ticklabelstandoff:6,
    title:{text:title, font:{family:FONT,size:56.5,color:INK}, standoff:0}};
}
function redLine(times, xref, py0, py1){
  return {type:'line', xref:xref, yref:'paper', x0:times[0], x1:times[1], y0:1-py0/H, y1:1-py1/H,
    line:{color:'#ff0000', width:7.5, dash:'26px,25px'}};
}
function caption(text, px, py, size){
  return {xref:'paper', yref:'paper', x:px/W, y:1-py/H, xanchor:'left', yanchor:'middle', text:text, showarrow:false, align:'left',
    font:{family:SERIF, size:size, color:'#000'}};
}
function timeTitle(i){
  return {xref:'paper', yref:'paper', x:(LEFT+RIGHT)/2/W, y:1-(FRAME[i][1]+91)/H, xanchor:'center', yanchor:'middle', text:xTitle, showarrow:false,
    font:{family:FONT, size:56.5, color:INK}};
}

const layout = {
  width:W, height:H, margin:{l:0,r:0,t:0,b:0}, paper_bgcolor:'#fff', plot_bgcolor:'#fff', showlegend:false,
  xaxis: xAxis(0,[0,50],xTicksA), yaxis: yAxis(0,[-.25,.25],yAmpATicks,yAmpALabels,'Amplitude(V)'),
  xaxis2:xAxis(1,[0,50],xTicksA), yaxis2:yAxis(1,[-8,8],yCmdATicks,yCmdALabels,'Command signal(V)'),
  xaxis3:xAxis(2,[0,45],xTicksB), yaxis3:yAxis(2,[-.025,.025],yAmpBTicks,yAmpBLabels,'Amplitude(V)'),
  xaxis4:xAxis(3,[0,45],xTicksB), yaxis4:yAxis(3,[-.8,1],yCmdBTicks,yCmdBLabels,'Command signal(V)'),
  shapes:[redLine(switchTimeA,'x',22,1415), redLine(switchTimeB,'x3',2045,3441)],
  annotations:[timeTitle(0),timeTitle(1),timeTitle(2),timeTitle(3),
    caption(captionA1,19,1689,85.7), caption(captionA2,19,1797,82.5), caption(captionB,56,3716,82.2)]
};
Plotly.newPlot('chart', traces, layout, {displayModeBar:false, staticPlot:true});
</script>
</body>
</html>
